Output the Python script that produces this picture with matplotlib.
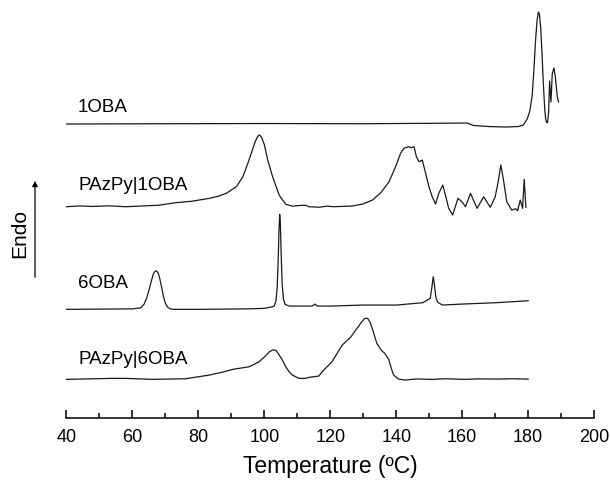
import numpy as np
import matplotlib
matplotlib.use('Agg')
import matplotlib.pyplot as plt
from matplotlib.ticker import MultipleLocator

plt.rcParams['font.family'] = ['Liberation Sans', 'DejaVu Sans']

# DSC heating traces, heat flow relative to the 40 C baseline (arb. units)
names = ['1OBA', 'PAzPy|1OBA', '6OBA', 'PAzPy|6OBA']

t_1oba = [40, 70, 100, 130, 150, 161.5, 163.5, 168, 173, 177, 178.5, 179.7,
          180.5, 181.2, 181.7, 182.2, 182.7, 183.1, 183.4, 183.8, 184.2,
          184.6, 185.0, 185.3, 185.6, 185.9, 186.2, 186.5, 186.9, 187.3,
          187.8, 188.2, 188.8, 189.2]
q_1oba = [0, 0.3, 0.5, 0.3, 0.7, 1.0, -1.5, -2.5, -3.0, -2.5, -1.0, 5,
          13, 28, 52, 82, 104, 112, 110, 96, 70,
          40, 16, 5, 1.5, 1.5, 12, 43, 22, 50,
          56, 48, 28, 22]

t_p1oba = [40, 44, 48, 53, 58, 63, 68, 73, 78, 83.5, 86, 88.5, 91.5, 93.5, 95,
           96.3, 97.2, 98.0, 98.6, 99.2, 100, 101, 102.5, 104.5, 106.5, 108.5,
           110.5, 112.5, 113.5, 116.7, 119, 121, 124, 126.7, 129.8, 132.8,
           135.3, 137.8, 139.8, 141.3, 142.3, 143.8, 144.6, 145.4, 146.1,
           146.9, 147.9, 148.9, 149.9, 150.9, 151.9, 152.9, 154.1, 154.9,
           155.9, 157.1, 158.7, 159.9, 161, 162.5, 164.5, 166.5, 168.5, 170,
           170.9, 171.7, 172.5, 173.5, 175, 176.2, 176.8, 177.6, 178.3, 178.8,
           179.3]
q_p1oba = [0, 0.8, 0.3, 0.9, 0, 0.8, 1.5, 4, 5.5, 8.5, 10.5, 13.5, 20, 30, 43.5,
           56, 65, 70.5, 71.7, 69, 62, 47, 30, 11.5, 2.5, 0.5,
           1.2, 1.5, 0, -0.5, 0.6, 0, 0.4, 0.7, 2.7, 6.7,
           14, 25, 40, 53.4, 58.4, 60, 59, 60, 50,
           45, 46.7, 33.4, 20, 10, 2.7, 13.4, 21.7, 11.7,
           -1.6, -8.3, 8.4, 5, 0, 13.4, -1.6, 10, -0.6, 10,
           25, 41.7, 27, 5, -3.3, -2, -4, 6.7, -1.6, 27.4,
           -0.6]

t_6oba = [40, 60, 62.5, 63.5, 64.3, 65, 65.7, 66.3, 66.8, 67.2, 67.7, 68.2,
          68.8, 69.4, 70.0, 70.7, 71.5, 72.5, 80, 95, 100, 102.5, 103.0,
          103.5, 103.9, 104.2, 104.45, 104.65, 104.85, 105.1, 105.4, 105.8,
          106.3, 107.5, 110, 114.5, 115.3, 116, 120, 130, 140, 148, 150.3,
          150.8, 151.2, 151.6, 152.0, 152.6, 154, 160, 170, 180]
q_6oba = [0, 0.5, 1.5, 5, 11, 19, 28, 35, 38, 38.6, 37, 32,
          23, 13, 6, 2, 0.5, 0, 0, 0.5, 1, 2.6, 3.5,
          8, 22, 50, 80, 95, 86, 55, 25, 10,
          5, 3.3, 3.3, 3.3, 5.3, 3.3, 3.3, 4.3, 4.3, 6.6, 11,
          22, 32.6, 24, 12, 7, 4.3, 5.3, 6.6, 8.6]

t_p6oba = [40, 48, 54, 58, 66, 76, 83.3, 87, 90.4, 95.4, 98.4, 100.2, 101.5,
           102.6, 103.5, 104.4, 105.5, 106.5, 107.5, 108.5, 110.5, 112.5,
           113.5, 116.5, 117.5, 120.5, 123.6, 126.1, 128.1, 129.5, 130.5,
           131.3, 132.1, 133.0, 134.1, 135.5, 136.5, 137.7, 138.5, 139.2,
           140.7, 142.7, 146, 150.7, 155, 160.8, 165, 170.9, 175, 180]
q_p6oba = [0, 0.6, 1.0, 1.0, 0, 0.6, 4.3, 7, 10, 12.6, 17.6, 23, 27.5,
           29.5, 29, 25, 19, 12.6, 7.5, 4.3, 1, 1,
           2, 3.3, 7.6, 17.6, 34.3, 42, 51, 57.5, 61,
           61, 57, 48, 36, 29, 26, 20, 11, 4.3,
           0.3, -0.7, 0.4, 0, 0.6, 0, 0.5, 0.3, 0.6, 0.3]

temps = [t_1oba, t_p1oba, t_6oba, t_p6oba]
flows = [q_1oba, q_p1oba, q_6oba, q_p6oba]

# vertical stacking of the traces and where their names sit
offsets = [294, 211.3, 108.7, 38.7]
label_dy = [17, 21, 26, 20]

fig = plt.figure(figsize=(6.1, 4.8), dpi=100)
ax = fig.add_axes([0.109, 0.129, 0.865, 0.871])

for name, t, q, off, dy in zip(names, temps, flows, offsets, label_dy):
    ax.plot(t, np.array(q) + off, color='#1a1a1a', lw=0.9)
    ax.text(43.5, off + dy, name, fontsize=13.5, ha='left', va='center')

ax.set_xlim(40, 200)
ax.set_ylim(0, 418)
ax.xaxis.set_major_locator(MultipleLocator(20))
ax.xaxis.set_minor_locator(MultipleLocator(10))
ax.tick_params(axis='x', which='major', direction='in', length=6, width=1.1,
               labelsize=13, pad=8)
ax.tick_params(axis='x', which='minor', direction='in', length=3.5, width=1.1)
ax.set_yticks([])
for s in ['top', 'right', 'left']:
    ax.spines[s].set_visible(False)
ax.spines['bottom'].set_linewidth(1.1)
ax.set_xlabel('Temperature (ºC)', fontsize=16.5, labelpad=6)

# endothermic direction marker
fig.text(20 / 610, 1 - 233 / 480, 'Endo', rotation=90, fontsize=15,
         ha='center', va='center')
fig.add_artist(matplotlib.patches.FancyArrowPatch(
    (35 / 610, 1 - 280 / 480), (35 / 610, 1 - 178 / 480),
    transform=fig.transFigure, arrowstyle='-|>', mutation_scale=8,
    color='black', lw=0.9))

fig.savefig('out.png', dpi=100)
